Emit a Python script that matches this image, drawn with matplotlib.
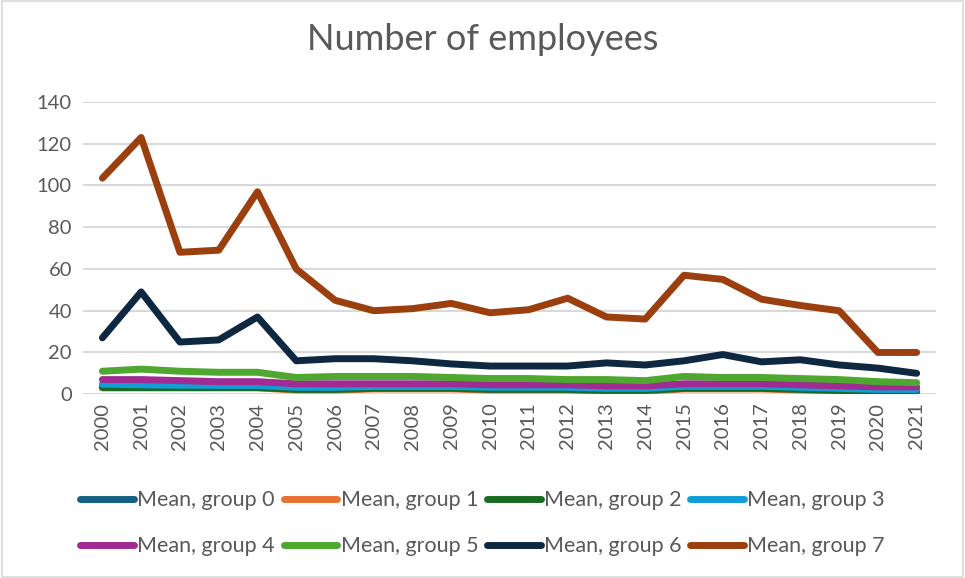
import matplotlib
matplotlib.use("Agg")
import matplotlib.pyplot as plt
from matplotlib.patches import Rectangle

years = [str(y) for y in range(2000, 2022)]

group0 = [3.5, 3.5, 3.5, 3.5, 3.5, 2.5, 2.5, 3, 3, 3, 2.5, 2.5, 2.5, 2, 2, 3, 3, 3, 2.5, 2, 1.5, 1.5]
group1 = [3, 3, 3, 3, 3, 2, 2, 2.5, 2.5, 2.5, 2, 2, 2, 1.5, 1.5, 2.5, 2.5, 2.5, 2, 1.5, 1, 1]
group2 = [3.2, 3.2, 3.2, 3.2, 3.2, 2.3, 2.3, 2.8, 2.8, 2.8, 2.3, 2.3, 2.3, 1.8, 1.8, 2.8, 2.8, 2.8, 2.3, 1.8, 1.3, 1.3]
group3 = [4.8, 4.5, 4.3, 4.2, 4.2, 3.3, 3.3, 3.7, 3.7, 3.7, 3.3, 3.3, 3.3, 2.8, 2.8, 3.8, 3.8, 3.8, 3.3, 2.8, 2.3, 2.3]
group4 = [7, 7, 6.5, 6, 6, 5, 5, 5, 5, 5, 4.5, 4.5, 4.5, 4, 4, 5, 5, 5, 4.5, 4, 3.5, 3.5]
group5 = [11, 12, 11, 10.5, 10.5, 8, 8.5, 8.5, 8.5, 8, 7.5, 7.5, 7, 7, 6.5, 8.5, 8, 8, 7.5, 7, 6, 5.5]
group6 = [27, 49, 25, 26, 37, 16, 17, 17, 16, 14.5, 13.5, 13.5, 13.5, 15, 14, 16, 19, 15.5, 16.5, 14, 12.5, 10]
group7 = [103.5, 123, 68, 69, 97, 60, 45, 40, 41, 43.5, 39, 40.5, 46, 37, 36, 57, 55, 45.5, 42.5, 40, 20, 20]

series = [group0, group1, group2, group3, group4, group5, group6, group7]
labels = [f"Mean, group {i}" for i in range(8)]
colors = ["#156082", "#E97132", "#196B24", "#0F9ED5", "#A02B93", "#4EA72E", "#0E2841", "#9C3F0F"]

plt.rcParams['font.family'] = ['Lato', 'DejaVu Sans']
text_color = "#595959"

fig = plt.figure(figsize=(9.65, 5.78), dpi=100)
ax = fig.add_axes([0.086, 0.318, 0.884, 0.5055])

x = list(range(len(years)))
handles = []
for s, lab, c in zip(series, labels, colors):
    h, = ax.plot(x, s, color=c, lw=5, label=lab, solid_capstyle='round', solid_joinstyle='round')
    handles.append(h)

ax.set_xlim(-0.5, len(years) - 0.5)
ax.set_ylim(0, 140)
ax.set_yticks(range(0, 141, 20))
ax.set_xticks(x)
ax.set_xticklabels(years, rotation=90)
ax.tick_params(axis='both', length=0, labelsize=14.5, colors=text_color)
ax.tick_params(axis='y', pad=8)
ax.tick_params(axis='x', pad=6)
ax.grid(axis='y', color="#D9D9D9", lw=1.5)
ax.set_axisbelow(True)
for sp in ax.spines.values():
    sp.set_visible(False)

fig.suptitle("Number of employees", y=0.96, fontsize=26, color=text_color)

order = [0, 4, 1, 5, 2, 6, 3, 7]
leg = fig.legend([handles[i] for i in order], [labels[i] for i in order],
                 loc='upper center', bbox_to_anchor=(0.5, 0.185), ncol=4, frameon=False,
                 fontsize=15.5, handlelength=2.5, handletextpad=0.15, columnspacing=0.4,
                 labelspacing=1.2, labelcolor=text_color)

fig.patches.append(Rectangle((0.002, 0.002), 0.996, 0.996, transform=fig.transFigure,
                             fill=False, edgecolor="#D9D9D9", lw=1.2))

fig.savefig("out.png", dpi=100)
